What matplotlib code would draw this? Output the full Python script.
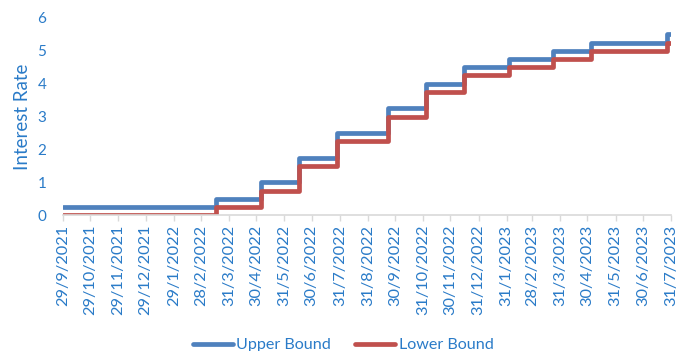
import matplotlib.pyplot as plt
import matplotlib.dates as mdates
from datetime import date

# target range changes (bounds in %), last entry extends the line to the end date
change_dates = ["2021-09-29", "2022-03-17", "2022-05-05", "2022-06-16", "2022-07-28",
                "2022-09-22", "2022-11-03", "2022-12-15", "2023-02-02", "2023-03-23",
                "2023-05-04", "2023-07-27", "2023-07-31"]
upper_bound = [0.25, 0.5, 1.0, 1.75, 2.5, 3.25, 4.0, 4.5, 4.75, 5.0, 5.25, 5.5, 5.5]
lower_bound = [0.0, 0.25, 0.75, 1.5, 2.25, 3.0, 3.75, 4.25, 4.5, 4.75, 5.0, 5.25, 5.25]

tick_dates = ["2021-09-29", "2021-10-29", "2021-11-29", "2021-12-29", "2022-01-29",
              "2022-02-28", "2022-03-31", "2022-04-30", "2022-05-31", "2022-06-30",
              "2022-07-31", "2022-08-31", "2022-09-30", "2022-10-31", "2022-11-30",
              "2022-12-31", "2023-01-31", "2023-02-28", "2023-03-31", "2023-04-30",
              "2023-05-31", "2023-06-30", "2023-07-31"]
tick_labels = ["29/9/2021", "29/10/2021", "29/11/2021", "29/12/2021", "29/1/2022",
               "28/2/2022", "31/3/2022", "30/4/2022", "31/5/2022", "30/6/2022",
               "31/7/2022", "31/8/2022", "30/9/2022", "31/10/2022", "30/11/2022",
               "31/12/2022", "31/1/2023", "28/2/2023", "31/3/2023", "30/4/2023",
               "31/5/2023", "30/6/2023", "31/7/2023"]

text_blue = "#2A7BC8"
plt.rcParams['font.family'] = ['Lato', 'DejaVu Sans']

x = mdates.date2num([date.fromisoformat(d) for d in change_dates])
xt = mdates.date2num([date.fromisoformat(d) for d in tick_dates])

fig = plt.figure(figsize=(6.86, 3.51), dpi=100)
ax = fig.add_axes([0.092, 0.387, 0.886, 0.562])

ax.step(x, upper_bound, where='post', color="#4F81BD", lw=3.4,
        solid_joinstyle='round', solid_capstyle='round', label="Upper Bound")
ax.step(x, lower_bound, where='post', color="#C0504D", lw=3.4,
        solid_joinstyle='round', solid_capstyle='round', label="Lower Bound")

ax.set_xlim(xt[0], xt[-1])
ax.set_ylim(0, 6)
ax.set_xticks(xt)
ax.set_xticklabels(tick_labels, rotation=90, fontsize=11.8, color=text_blue)
ax.set_yticks(range(7))
ax.tick_params(axis='y', length=0, labelsize=11, labelcolor=text_blue, pad=12)
ax.tick_params(axis='x', length=4, color="#D9D9D9", width=1, pad=3)
ax.set_ylabel("Interest Rate", fontsize=13.5, color=text_blue, labelpad=5)

for side in ['top', 'right', 'left']:
    ax.spines[side].set_visible(False)
ax.spines['bottom'].set_color("#D9D9D9")
ax.spines['bottom'].set_linewidth(1.2)

fig.legend(loc='lower center', bbox_to_anchor=(0.5, -0.045), ncol=2, frameon=False,
           fontsize=11.6, labelcolor=text_blue, handlelength=2.5, columnspacing=1.5,
           handletextpad=0.2)

fig.savefig("out.png", dpi=100)
